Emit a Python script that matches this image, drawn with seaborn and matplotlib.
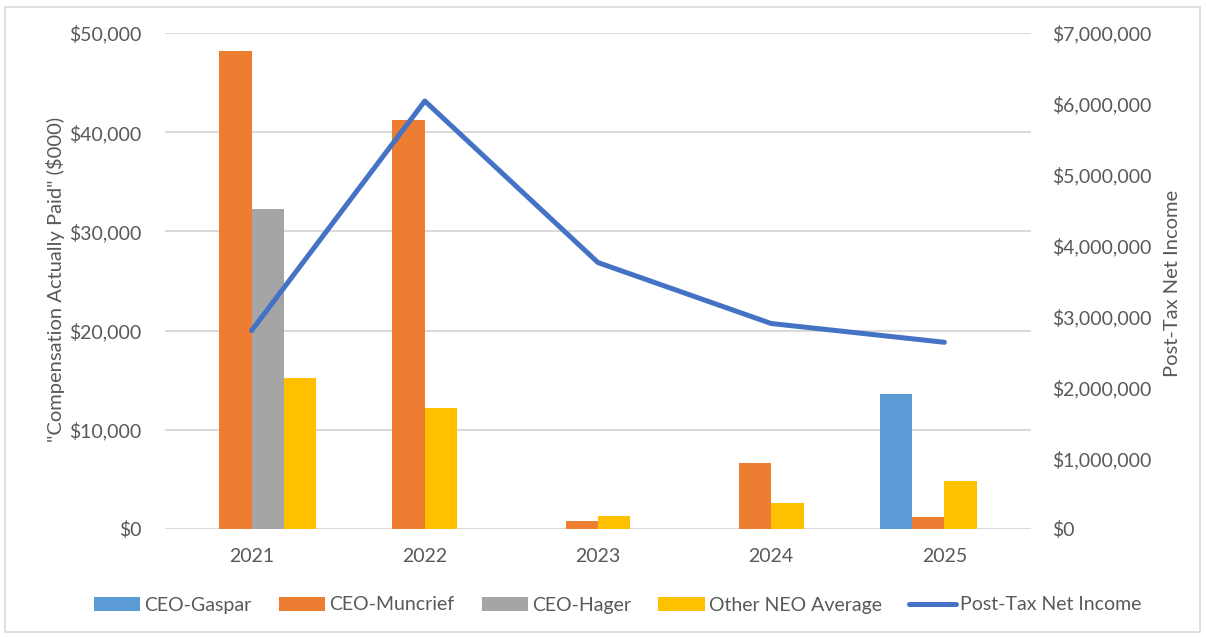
import numpy as np
import pandas as pd
import matplotlib
matplotlib.use("Agg")
import matplotlib.pyplot as plt
from matplotlib.patches import Patch, Rectangle
from matplotlib.lines import Line2D
from matplotlib.ticker import FuncFormatter, MultipleLocator
import seaborn as sns

# Compensation actually paid ($000) and post-tax net income by fiscal year
years = ["2021", "2022", "2023", "2024", "2025"]
ceo_gaspar = [np.nan, np.nan, np.nan, np.nan, 13620]
ceo_muncrief = [48150, 41270, 770, 6690, 1240]
ceo_hager = [32300, np.nan, np.nan, np.nan, np.nan]
other_neo_avg = [15200, 12240, 1280, 2620, 4870]
net_income = [2800000, 6040000, 3760000, 2900000, 2635000]

series_names = ["CEO-Gaspar", "CEO-Muncrief", "CEO-Hager", "Other NEO Average"]
series_values = [ceo_gaspar, ceo_muncrief, ceo_hager, other_neo_avg]
colors = {"CEO-Gaspar": "#5B9BD5", "CEO-Muncrief": "#ED7D31",
          "CEO-Hager": "#A5A5A5", "Other NEO Average": "#FFC000"}
line_color = "#4472C4"
text_color = "#595959"
grid_color = "#D9D9D9"

sns.set_theme(style="white")
plt.rcParams["font.family"] = ["Lato", "DejaVu Sans"]

# Bars sit side by side inside each year: Gaspar left of Muncrief, Muncrief just
# left of the year centre, remaining present series packed to the right.
slot = 0.187
rows = []
for i, yr in enumerate(years):
    right_idx = 0
    for name, vals in zip(series_names, series_values):
        v = vals[i]
        if np.isnan(v):
            continue
        if name == "CEO-Gaspar":
            off = -1.5
        elif name == "CEO-Muncrief":
            off = -0.5
        else:
            off = 0.5 + right_idx
            right_idx += 1
        rows.append({"pos": i + off * slot, "value": v, "series": name})
bars = pd.DataFrame(rows)

fig = plt.figure(figsize=(12.06, 6.37), dpi=100)
ax = fig.add_axes([165 / 1206, 1 - 529 / 637, 866 / 1206, 496 / 637])

sns.barplot(data=bars, x="pos", y="value", hue="series", hue_order=series_names,
            palette=colors, native_scale=True, dodge=False, width=1.0,
            errorbar=None, saturation=1, legend=False, linewidth=0, ax=ax)

ax.set_xlim(-0.5, len(years) - 0.5)
ax.set_ylim(0, 50000)
ax.yaxis.set_major_locator(MultipleLocator(10000))
ax.yaxis.set_major_formatter(FuncFormatter(lambda v, p: f"${v:,.0f}"))
ax.set_xticks(range(len(years)))
ax.set_xticklabels(years)
ax.set_xlabel("")
ax.set_ylabel("")
ax.grid(axis="y", color=grid_color, linewidth=1.4)
ax.grid(axis="x", visible=False)
ax.set_axisbelow(True)
for s in ax.spines.values():
    s.set_visible(False)
ax.tick_params(axis="both", length=0, labelsize=14, colors=text_color)
ax.tick_params(axis="y", pad=17)
ax.tick_params(axis="x", pad=14)

ax2 = ax.twinx()
sns.lineplot(x=list(range(len(years))), y=net_income, ax=ax2, color=line_color,
             linewidth=3.6, legend=False)
ax2.set_ylim(0, 7000000)
ax2.yaxis.set_major_locator(MultipleLocator(1000000))
ax2.yaxis.set_major_formatter(FuncFormatter(lambda v, p: f"${v:,.0f}"))
ax2.grid(False)
for s in ax2.spines.values():
    s.set_visible(False)
ax2.tick_params(axis="y", length=0, labelsize=14, colors=text_color, pad=15)
ax2.set_ylabel("")

fig.text(56 / 1206, 1 - 279 / 637, '"Compensation Actually Paid" ($000)',
         rotation=90, ha="center", va="center", fontsize=14.5, color=text_color)
fig.text(1172 / 1206, 1 - 283 / 637, "Post-Tax Net Income",
         rotation=90, ha="center", va="center", fontsize=14.5, color=text_color)

handles = [Patch(facecolor=colors[n], edgecolor="none", label=n) for n in series_names]
handles.append(Line2D([0], [0], color=line_color, linewidth=3.6, label="Post-Tax Net Income"))
fig.legend(handles=handles, loc="center", bbox_to_anchor=(0.512, 1 - 605 / 637),
           ncol=5, frameon=False, fontsize=14, labelcolor=text_color,
           handlelength=2.4, handleheight=0.7, handletextpad=0.2, columnspacing=1.4)

fig.patches.append(Rectangle((5 / 1206, 1 - 632 / 637), 1195 / 1206, 625 / 637,
                             transform=fig.transFigure, fill=False,
                             edgecolor=grid_color, linewidth=1.2))

fig.savefig("out.png", dpi=100)
